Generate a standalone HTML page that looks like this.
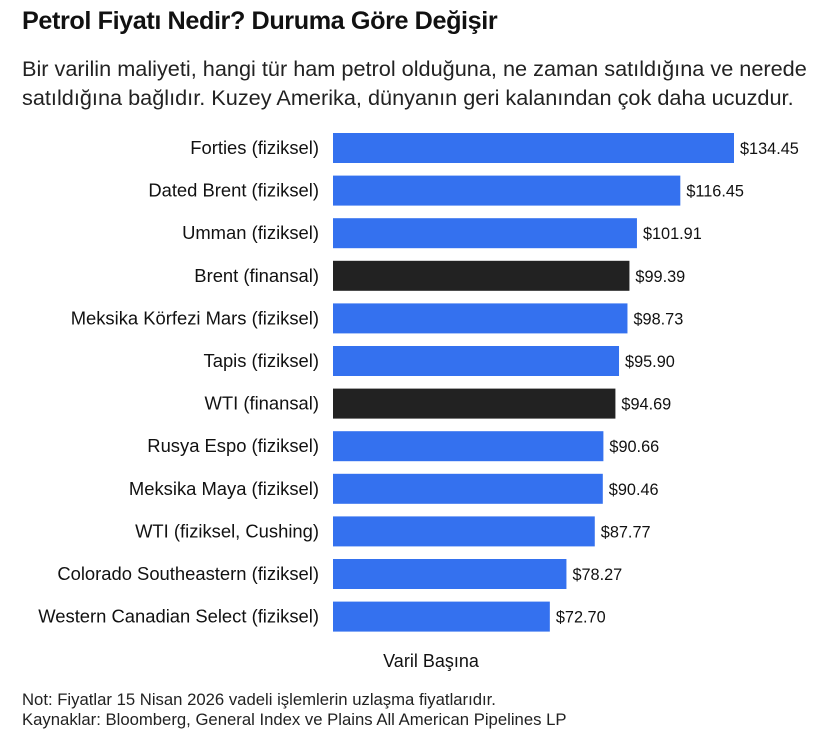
<!DOCTYPE html>
<html><head><meta charset="utf-8"><style>
body{margin:0;background:#fff;font-family:"Liberation Sans",sans-serif;color:#111}
#wrap{position:relative;width:820px;height:736px;overflow:hidden}
h1{position:absolute;left:22px;top:7px;margin:0;font-size:25.2px;font-weight:bold;letter-spacing:-0.4px}
.sub{position:absolute;left:22px;top:54px;margin:0;font-size:21.7px;line-height:29px;color:#222;white-space:nowrap}
.note{position:absolute;left:22px;font-size:16.7px;color:#222;white-space:nowrap}
</style></head><body>
<div id="wrap">
<h1>Petrol Fiyatı Nedir? Duruma Göre Değişir</h1>
<p class="sub">Bir varilin maliyeti, hangi tür ham petrol olduğuna, ne zaman satıldığına ve nerede<br>satıldığına bağlıdır. Kuzey Amerika, dünyanın geri kalanından çok daha ucuzdur.</p>
<svg id="chart" width="820" height="736" style="position:absolute;left:0;top:0"></svg>
<div class="note" style="top:690px">Not: Fiyatlar 15 Nisan 2026 vadeli işlemlerin uzlaşma fiyatlarıdır.</div>
<div class="note" style="top:710px">Kaynaklar: Bloomberg, General Index ve Plains All American Pipelines LP</div>
</div>
<script>
const categories=["Forties (fiziksel)","Dated Brent (fiziksel)","Umman (fiziksel)","Brent (finansal)","Meksika Körfezi Mars (fiziksel)","Tapis (fiziksel)","WTI (finansal)","Rusya Espo (fiziksel)","Meksika Maya (fiziksel)","WTI (fiziksel, Cushing)","Colorado Southeastern (fiziksel)","Western Canadian Select (fiziksel)"];
const values=[134.45,116.45,101.91,99.39,98.73,95.90,94.69,90.66,90.46,87.77,78.27,72.70];
const financial=[false,false,false,true,false,false,true,false,false,false,false,false];
const axisTitle="Varil Başına";
const NS="http://www.w3.org/2000/svg";
const svg=document.getElementById('chart');
const x0=333, scale=401/134.45;
const xs=v=>x0+v*scale;
const rowTop=i=>133+i*42.6;
const bh=30;
categories.forEach((c,i)=>{
  const y=rowTop(i);
  const r=document.createElementNS(NS,'rect');
  r.setAttribute('x',x0);r.setAttribute('y',y);
  r.setAttribute('width',xs(values[i])-x0);r.setAttribute('height',bh);
  r.setAttribute('fill',financial[i]?'#222222':'#3471ef');
  
  
  svg.appendChild(r);
  const l=document.createElementNS(NS,'text');
  l.setAttribute('x',319);l.setAttribute('y',y+bh/2+6);
  l.setAttribute('text-anchor','end');l.setAttribute('font-size','18.4');l.setAttribute('fill','#111');
  l.textContent=c;
  
  
  svg.appendChild(l);
  const t=document.createElementNS(NS,'text');
  t.setAttribute('x',xs(values[i])+6);t.setAttribute('y',y+bh/2+6);
  t.setAttribute('font-size','16.3');t.setAttribute('fill','#111');
  t.textContent='$'+values[i].toFixed(2);
  
  
  svg.appendChild(t);
});
const at=document.createElementNS(NS,'text');
at.setAttribute('x',431);at.setAttribute('y',667);at.setAttribute('text-anchor','middle');
at.setAttribute('font-size','18');at.setAttribute('fill','#111');
at.textContent=axisTitle;


svg.appendChild(at);
</script>
</body></html>
